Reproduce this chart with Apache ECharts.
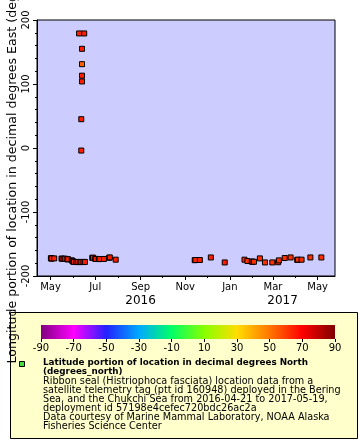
<!DOCTYPE html>
<html><head><meta charset="utf-8">
<script src="https://cdn.jsdelivr.net/npm/echarts@6/dist/echarts.min.js"></script>
<style>html,body{margin:0;padding:0;background:#fff}#c{width:360px;height:440px}</style>
</head><body><div id="c"></div>
<script>
// ---- data ----
const dates = ['2016-05-01T12:00','2016-05-02','2016-05-02T12:00','2016-05-06','2016-05-16','2016-05-17','2016-05-19','2016-05-21','2016-05-24','2016-05-25','2016-05-30','2016-05-31','2016-06-01','2016-06-02','2016-06-05','2016-06-07','2016-06-09','2016-06-10','2016-06-12','2016-06-12','2016-06-12','2016-06-13','2016-06-13','2016-06-13','2016-06-13','2016-06-15','2016-06-16','2016-06-17','2016-06-27','2016-06-28','2016-07-01','2016-07-02','2016-07-06','2016-07-07','2016-07-13','2016-07-20','2016-07-21','2016-07-29','2016-11-14','2016-11-15','2016-11-21','2016-12-06','2016-12-25','2017-01-21','2017-01-25','2017-01-31','2017-02-01','2017-02-03','2017-02-11','2017-02-18','2017-02-28','2017-03-08','2017-03-09','2017-03-17','2017-03-25','2017-04-03','2017-04-04','2017-04-09','2017-04-21','2017-05-06'];
const lons = [-172.2,-172.8,-172.5,-172.5,-172.8,-173.2,-173,-173,-174,-173.8,-175.5,-176.5,-177.8,-177.7,-178.2,-178,179,-178.3,-178,45,-4,155,131,113,104,-178.2,179,-178,-171.6,-171.4,-173.2,-173.4,-173.6,-173.4,-173.4,-171.5,-171,-174.5,-175.3,-175,-175,-171,-178.8,-174.5,-176.6,-177.5,-177.7,-177.7,-172.5,-178.8,-178.8,-178.5,-175.6,-171.9,-171,-174.8,-174.5,-174.5,-171,-171];
const lats = [64,65,64,65,64,65,64,65,64,65,64,64,64,65,64,65,64,64,65,65,65,65,54,65,65,64,65,65,64,65,64,65,64,65,65,64,65,65,64,64,65,65,65,63,62,62,63,62,62,62,62,62,62,62,62,62,62,62,62,62];

const monthTickDates = ['2016-05-01','2016-06-01','2016-07-01','2016-08-01','2016-09-01','2016-10-01','2016-11-01','2016-12-01','2017-01-01','2017-02-01','2017-03-01','2017-04-01','2017-05-01'];
const labelDates = ['2016-05-01','2016-07-01','2016-09-01','2016-11-01','2017-01-01','2017-03-01','2017-05-01'];
const labelTexts = ['May','Jul','Sep','Nov','Jan','Mar','May'];
const yearDates = ['2016-09-01','2017-03-14'];
const yearTexts = ['2016','2017'];
const colorTicks = [-90,-70,-50,-30,-10,10,30,50,70,90];
const latPalette = ['#800080','#ff00ff','#2222ff','#00aaff','#00ff66','#88ff00','#ffdd00','#ff7700','#ff0000','#800000'];

const xMin = '2016-04-12T12:00', xMax = '2017-05-24T16:00';
const yTitle = 'Longitude portion of location in decimal degrees East (degrees_east)';
const legTitle = 'Latitude portion of location in decimal degrees North\n(degrees_north)';
const legBody = 'Ribbon seal (Histriophoca fasciata) location data from a\nsatellite telemetry tag (ptt id 160948) deployed in the Bering\nSea, and the Chukchi Sea from 2016-04-21 to 2017-05-19,\ndeployment id 57198e4cefec720bdc26ac2a\nData courtesy of Marine Mammal Laboratory, NOAA Alaska\nFisheries Science Center';

// ---- build ----
const T = s => Date.parse(s.length > 10 ? s + ':00Z' : s + 'T00:00:00Z');
const points = dates.map((d, i) => [T(d), lons[i], lats[i]]);
const tMin = T(xMin), tMax = T(xMax);
const labelT = labelDates.map(T);
const yearT = yearDates.map(T);
const FF = 'DejaVu Sans';

const chart = echarts.init(document.getElementById('c'), null, {renderer: 'canvas'});
chart.setOption({
  animation: false,
  textStyle: {fontFamily: FF, color: '#000'},
  grid: [
    {left: 37, top: 20, width: 298, height: 256, show: true, backgroundColor: '#ccccff', borderColor: '#000', borderWidth: 1},
    {left: 41, top: 325, width: 294, height: 14, show: true, borderWidth: 0,
      backgroundColor: {type: 'linear', x: 0, y: 0, x2: 1, y2: 0,
        colorStops: latPalette.map((c, i) => ({offset: i / (latPalette.length - 1), color: c}))}}
  ],
  xAxis: [
    {type: 'value', gridIndex: 0, position: 'bottom', min: tMin, max: tMax,
      axisLine: {show: true, onZero: false, lineStyle: {color: '#000', width: 1}},
      axisTick: {show: true, length: 4, lineStyle: {color: '#000'}, customValues: labelT},
      axisLabel: {customValues: labelT, fontSize: 10, color: '#000', margin: 6, fontFamily: FF,
        formatter: v => labelTexts[labelT.indexOf(v)] || ''},
      splitLine: {show: false}},
    {type: 'value', gridIndex: 0, position: 'bottom', min: tMin, max: tMax,
      axisLine: {show: false, onZero: false},
      axisTick: {show: true, length: 2, lineStyle: {color: '#000'}, customValues: monthTickDates.map(T)},
      axisLabel: {show: false}, splitLine: {show: false}},
    {type: 'value', gridIndex: 0, position: 'bottom', min: tMin, max: tMax,
      axisLine: {show: false, onZero: false}, axisTick: {show: false},
      axisLabel: {customValues: yearT, fontSize: 12, color: '#000', margin: 19, fontFamily: FF,
        formatter: v => yearTexts[yearT.indexOf(v)] || ''},
      splitLine: {show: false}},
    {type: 'value', gridIndex: 1, min: -90, max: 90, interval: 20,
      axisLine: {show: false, onZero: false},
      axisTick: {show: true, length: 3, lineStyle: {color: '#000'}, customValues: colorTicks},
      axisLabel: {customValues: colorTicks, fontSize: 10, color: '#000', margin: 4, fontFamily: FF},
      splitLine: {show: false}}
  ],
  yAxis: [
    {type: 'value', gridIndex: 0, min: -200, max: 200, interval: 100,
      axisLine: {show: true, onZero: false, lineStyle: {color: '#000'}},
      axisTick: {show: true, length: 4, lineStyle: {color: '#000'}},
      minorTick: {show: true, splitNumber: 5, length: 2, lineStyle: {color: '#000'}},
      axisLabel: {rotate: 90, fontSize: 10, color: '#000', margin: 6, fontFamily: FF,
        align: 'center', verticalAlign: 'bottom'},
      splitLine: {show: false}},
    {type: 'value', gridIndex: 1, min: 0, max: 1, show: false}
  ],
  visualMap: {type: 'continuous', show: false, min: -90, max: 90, dimension: 2, seriesIndex: 0,
    inRange: {color: latPalette}},
  series: [
    {type: 'scatter', xAxisIndex: 0, yAxisIndex: 0, data: points, symbol: 'rect', symbolSize: 5,
      itemStyle: {borderColor: '#000', borderWidth: 1, opacity: 1}, z: 5}
  ],
  graphic: [
    {type: 'rect', z: -1, shape: {x: 10.5, y: 312.5, width: 347, height: 126},
      style: {fill: '#ffffcc', stroke: '#000', lineWidth: 1}},
    {type: 'rect', z: 1, shape: {x: 19.5, y: 361.5, width: 5, height: 5},
      style: {fill: '#44dd44', stroke: '#000', lineWidth: 1}},
    {type: 'text', z: 1, x: 43, y: 358.5,
      style: {text: legTitle, fontSize: 8.8, fontWeight: 'bold', fontFamily: FF, fill: '#000',
        lineHeight: 9, align: 'left', verticalAlign: 'top'}},
    {type: 'text', z: 1, x: 43, y: 377,
      style: {text: legBody, fontSize: 9.7, fontFamily: FF, fill: '#000',
        lineHeight: 9, align: 'left', verticalAlign: 'top'}},
    {type: 'text', z: 10, x: 12.5, y: 363.5, rotation: Math.PI / 2,
      style: {text: yTitle, fontSize: 12.6, fontFamily: FF, fill: '#000', align: 'left', verticalAlign: 'middle'}}
  ]
});
</script></body></html>
